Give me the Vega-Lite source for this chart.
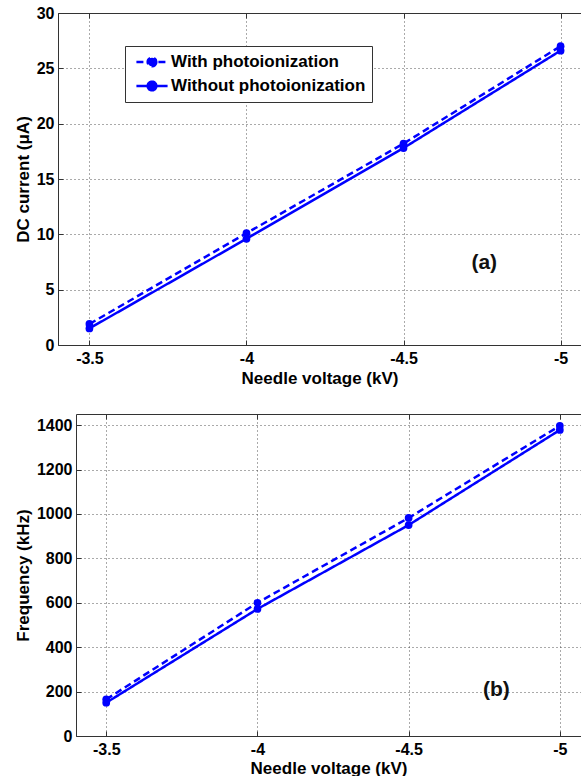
{
  "$schema": "https://vega.github.io/schema/vega-lite/v6.json",
  "padding": {"top": 5, "left": 13, "right": 0, "bottom": 0},
  "background": "white",
  "columns": 1,
  "spacing": 22,
  "datasets": {
    "current": [
      {"voltage": -3.5, "value": 1.9, "series": "With photoionization"},
      {"voltage": -4.0, "value": 10.1, "series": "With photoionization"},
      {"voltage": -4.5, "value": 18.2, "series": "With photoionization"},
      {"voltage": -5.0, "value": 27.0, "series": "With photoionization"},
      {"voltage": -3.5, "value": 1.5, "series": "Without photoionization"},
      {"voltage": -4.0, "value": 9.6, "series": "Without photoionization"},
      {"voltage": -4.5, "value": 17.8, "series": "Without photoionization"},
      {"voltage": -5.0, "value": 26.6, "series": "Without photoionization"}
    ],
    "frequency": [
      {"voltage": -3.5, "value": 165, "series": "With photoionization"},
      {"voltage": -4.0, "value": 600, "series": "With photoionization"},
      {"voltage": -4.5, "value": 982, "series": "With photoionization"},
      {"voltage": -5.0, "value": 1397, "series": "With photoionization"},
      {"voltage": -3.5, "value": 150, "series": "Without photoionization"},
      {"voltage": -4.0, "value": 572, "series": "Without photoionization"},
      {"voltage": -4.5, "value": 950, "series": "Without photoionization"},
      {"voltage": -5.0, "value": 1378, "series": "Without photoionization"}
    ],
    "labelA": [{"voltage": -4.757, "value": 7.4, "label": "(a)"}],
    "labelB": [{"voltage": -4.79, "value": 207, "label": "(b)"}],
    "spacer": [{"v": 0}]
  },
  "config": {
    "view": {"stroke": null},
    "font": "Liberation Sans",
    "axis": {
      "labelFont": "Liberation Sans",
      "labelFontSize": 16,
      "labelFontWeight": "bold",
      "labelColor": "#000000",
      "labelExpr": "datum.value + ''",
      "titleFont": "Liberation Sans",
      "titleFontSize": 17,
      "titleFontWeight": "bold",
      "titleColor": "#000000",
      "domainColor": "#333333",
      "domainWidth": 1,
      "tickColor": "#333333",
      "tickSize": -5,
      "gridColor": "#444444",
      "gridDash": [1, 3],
      "gridOpacity": 0.9,
      "gridWidth": 1
    },
    "legend": {
      "labelFont": "Liberation Sans",
      "labelFontSize": 17,
      "labelFontWeight": "bold",
      "labelColor": "#000000",
      "labelLimit": 400,
      "strokeColor": "#333333",
      "fillColor": "#ffffff",
      "padding": 6,
      "symbolType": "M-1.8,0L1.8,0M0.5,0A0.5,0.5,0,1,1,-0.5,0A0.5,0.5,0,1,1,0.5,0Z",
      "symbolSize": 300,
      "symbolOffset": 11,
      "symbolStrokeWidth": 2.5,
      "symbolStrokeColor": "#0000ff",
      "symbolFillColor": "#0000ff",
      "labelOffset": 9,
      "rowPadding": 4
    }
  },
  "concat": [
    {
      "hconcat": [
        {"width": 1, "height": 1, "data": {"name": "spacer"}, "mark": {"type": "text", "text": ""}, "encoding": {}},
        {
          "width": 523,
          "height": 332,
          "layer": [
            {
              "data": {"name": "current"},
              "mark": {"type": "line", "color": "#0000ff", "strokeWidth": 2.5, "point": {"filled": true, "size": 60, "color": "#0000ff"}},
              "encoding": {
                "x": {"field": "voltage", "type": "quantitative", "scale": {"domain": [-3.4, -5.065], "nice": false, "zero": false},
                  "axis": {"orient": "bottom", "values": [-3.5, -4, -4.5, -5], "title": "Needle voltage (kV)", "labelPadding": 10, "titlePadding": 4, "grid": true}},
                "y": {"field": "value", "type": "quantitative", "scale": {"domain": [0, 30], "nice": false},
                  "axis": {"values": [0, 5, 10, 15, 20, 25, 30], "title": "DC current (μA)", "labelPadding": 9, "titlePadding": 4, "grid": true}},
                "strokeDash": {"field": "series", "type": "nominal",
                  "scale": {"domain": ["With photoionization", "Without photoionization"], "range": [[7, 4], [1, 0]]},
                  "legend": {"title": null, "orient": "none", "legendX": 112, "legendY": 33,
                    "encode": {"symbols": {"update": {"stroke": {"value": "#0000ff"}, "fill": {"value": "#0000ff"}, "strokeWidth": {"value": 2.5}, "opacity": {"value": 1}}}}}}
              }
            },
            {
              "data": {"name": "labelA"},
              "mark": {"type": "text", "font": "Liberation Sans", "fontSize": 21, "fontWeight": "bold", "color": "#111111"},
              "encoding": {
                "x": {"field": "voltage", "type": "quantitative", "axis": {"orient": "top", "labels": false, "title": null, "grid": false, "values": [-3.5, -4, -4.5, -5]}},
                "y": {"field": "value", "type": "quantitative"},
                "text": {"field": "label"}
              }
            }
          ],
          "resolve": {"axis": {"x": "independent"}}
        }
      ],
      "spacing": 0
    },
    {
      "hconcat": [
        {"width": 1, "height": 1, "data": {"name": "spacer"}, "mark": {"type": "text", "text": ""}, "encoding": {}},
        {
          "width": 505,
          "height": 322,
          "layer": [
            {
              "data": {"name": "frequency"},
              "mark": {"type": "line", "color": "#0000ff", "strokeWidth": 2.5, "point": {"filled": true, "size": 60, "color": "#0000ff"}},
              "encoding": {
                "x": {"field": "voltage", "type": "quantitative", "scale": {"domain": [-3.4, -5.07], "nice": false, "zero": false},
                  "axis": {"orient": "bottom", "values": [-3.5, -4, -4.5, -5], "title": "Needle voltage (kV)", "labelPadding": 10, "titlePadding": 3, "grid": true}},
                "y": {"field": "value", "type": "quantitative", "scale": {"domain": [0, 1450], "nice": false},
                  "axis": {"values": [0, 200, 400, 600, 800, 1000, 1200, 1400], "title": "Frequency (kHz)", "labelPadding": 9, "titlePadding": 4, "grid": true}},
                "strokeDash": {"field": "series", "type": "nominal",
                  "scale": {"domain": ["With photoionization", "Without photoionization"], "range": [[7, 4], [1, 0]]},
                  "legend": {"title": null, "orient": "none", "legendX": 132, "legendY": 28,
                    "encode": {"symbols": {"update": {"stroke": {"value": "#0000ff"}, "fill": {"value": "#0000ff"}, "strokeWidth": {"value": 2.5}, "opacity": {"value": 1}}}}}}
              }
            },
            {
              "data": {"name": "labelB"},
              "mark": {"type": "text", "font": "Liberation Sans", "fontSize": 21, "fontWeight": "bold", "color": "#111111"},
              "encoding": {
                "x": {"field": "voltage", "type": "quantitative", "axis": {"orient": "top", "labels": false, "title": null, "grid": false, "values": [-3.5, -4, -4.5, -5]}},
                "y": {"field": "value", "type": "quantitative"},
                "text": {"field": "label"}
              }
            }
          ],
          "resolve": {"axis": {"x": "independent"}}
        }
      ],
      "spacing": 0
    }
  ]
}
